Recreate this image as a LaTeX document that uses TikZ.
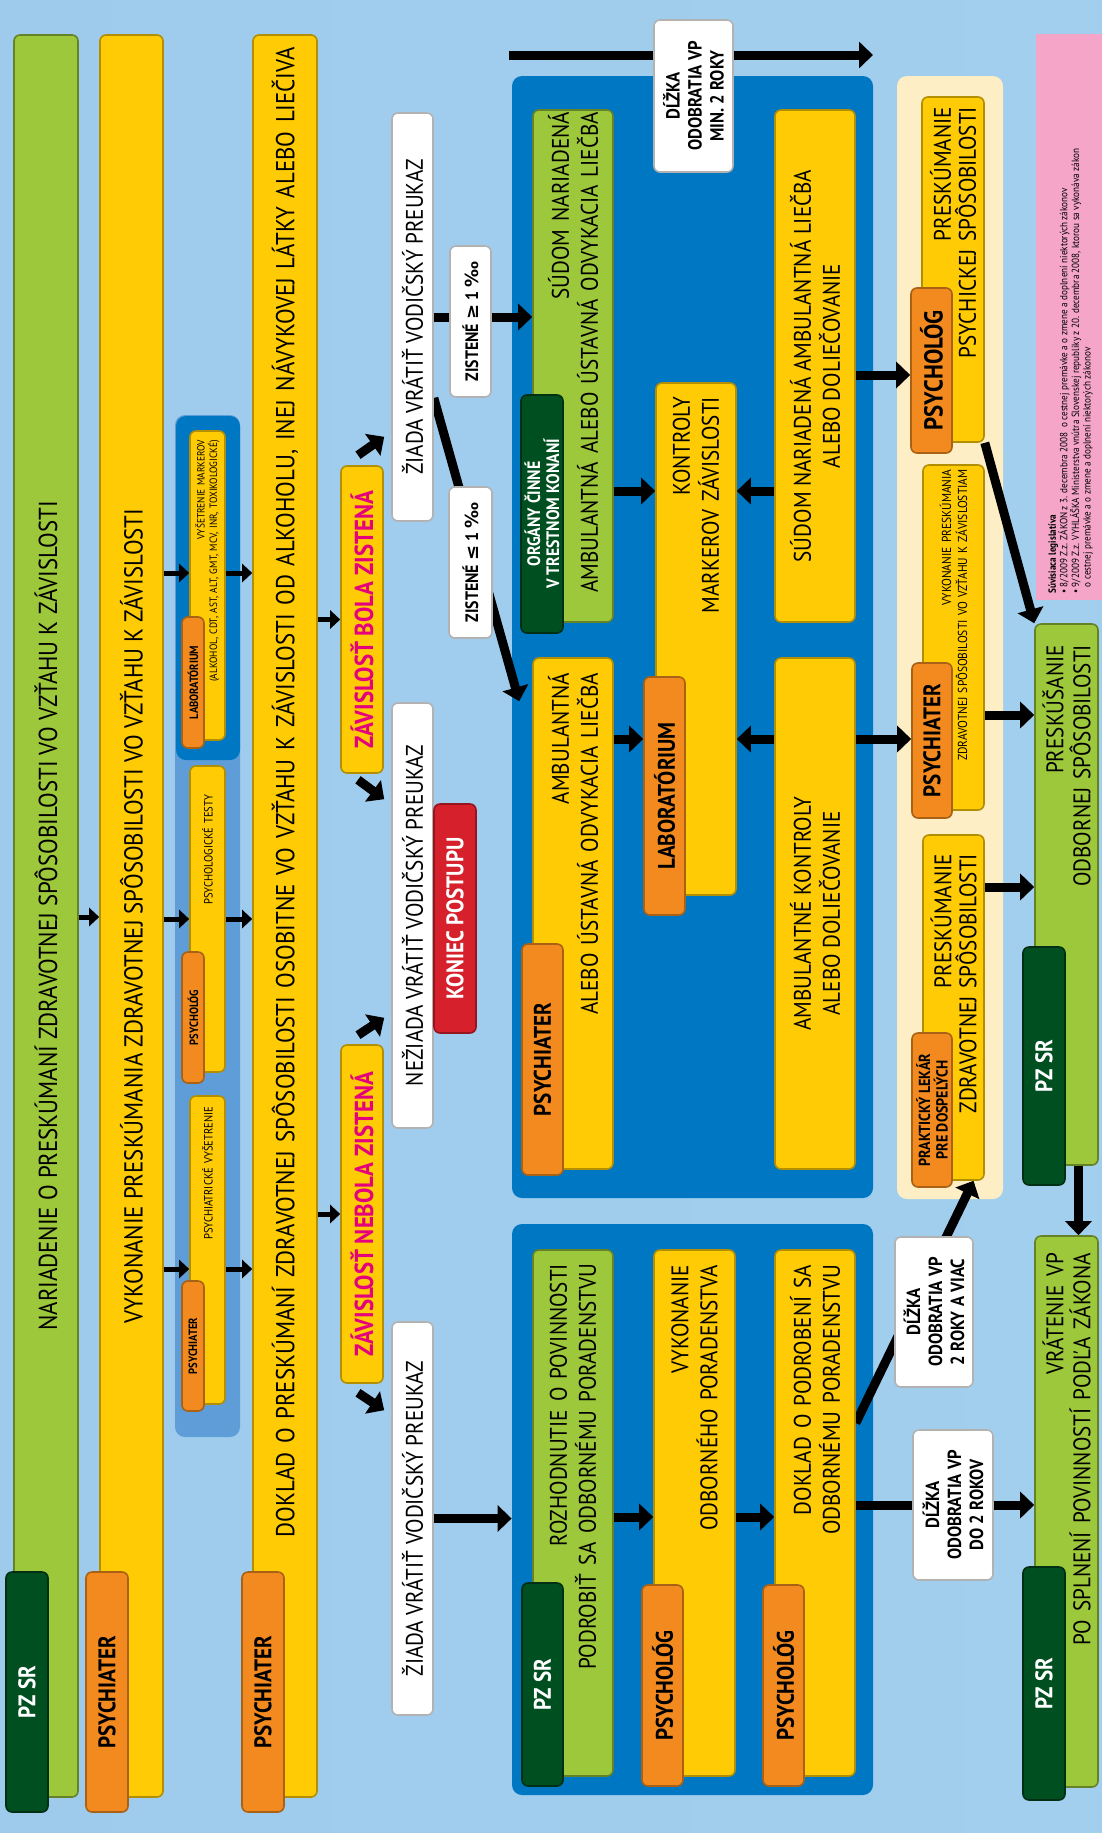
\documentclass[tikz,border=0pt]{standalone}
\usepackage{fontspec}
\setmainfont{PT Sans}[FakeStretch=0.88]
\newfontfamily\symfont{DejaVu Sans}
\usetikzlibrary{arrows.meta}

\definecolor{lime}{HTML}{9DC83B}
\definecolor{pine}{HTML}{004F20}
\definecolor{gold}{HTML}{FFCB05}
\definecolor{tangerine}{HTML}{F28A1F}
\definecolor{navy}{HTML}{0077C2}
\definecolor{steel}{HTML}{5E9DD8}
\definecolor{cream}{HTML}{FDEEC6}
\definecolor{blush}{HTML}{F4A5C8}
\definecolor{signal}{HTML}{D6202C}
\definecolor{fuchsia}{HTML}{E5007D}
\definecolor{skyA}{HTML}{9ECBEC}
\definecolor{skyB}{HTML}{DCEDF9}
\definecolor{skyC}{HTML}{A3CFEE}

\pgfdeclarelayer{back}
\pgfdeclarelayer{wires}
\pgfsetlayers{back,wires,main}

\begin{document}
\begin{tikzpicture}[x=0.5pt, y=-0.5pt,
    box/.style={rotate=90, rounded corners=3pt, line width=0.8pt, inner sep=0pt, align=center, font=\fontsize{12}{14.5}\selectfont},
    dims/.style 2 args={minimum width=#1, minimum height=#2},
    flush/.style={align=right, text width=#1},
    greenbox/.style={box, fill=lime, draw=lime!65!black},
    goldbox/.style={box, fill=gold, draw=gold!70!black},
    pinetag/.style={box, fill=pine, draw=pine!60!black, text=white, font=\bfseries\fontsize{12}{14}\selectfont},
    orangetag/.style={box, fill=tangerine, draw=tangerine!70!black, font=\bfseries\fontsize{12}{14}\selectfont},
    whitebox/.style={box, fill=white, draw=black!30},
    flag/.style={box, fill=gold, draw=gold!70!black, text=fuchsia, font=\bfseries\fontsize{13}{15}\selectfont},
    dlzka/.style={whitebox, font=\bfseries\fontsize{9.5}{11}\selectfont},
    rowtext/.style={font=\fontsize{13}{15}\selectfont},
    panel/.style={rounded corners=5pt, inner sep=0pt},
    arrow/.style={-{Triangle[length=5pt, width=9pt]}, line width=2.5pt},
    fat/.style={-{Triangle[length=7pt, width=13pt]}, line width=4.5pt}
]
\useasboundingbox (0,0) rectangle (1102,1833);

% background and panels
\begin{pgfonlayer}{back}
\shade[left color=skyA, middle color=skyB, right color=skyC] (0,0) rectangle (1102,1833);
\node[panel, fill=navy, minimum width=180.5pt, minimum height=561pt] (rpanel) at (692.5,637) {};
\node[panel, fill=navy, minimum width=180.5pt, minimum height=285.5pt] (lpanel) at (692.5,1509.5) {};
\node[panel, fill=steel, minimum width=32.5pt, minimum height=511pt] (tests) at (207.5,926) {};
\node[panel, fill=navy, minimum width=32pt, minimum height=172pt] (labp) at (208,588) {};
\node[panel, fill=cream, minimum width=53pt, minimum height=561.5pt] (exams) at (950,637.5) {};
\node[fill=blush, inner sep=0pt, minimum width=33pt, minimum height=283pt] (legis) at (1069,317) {};
\end{pgfonlayer}

% Rows 1, 2, 4
\node[greenbox, rowtext, dims={881pt}{32pt}] (nar) at (46,916) {NARIADENIE O PRESKÚMANÍ ZDRAVOTNEJ SPÔSOBILOSTI VO VZŤAHU K ZÁVISLOSTI};
\node[goldbox, rowtext, dims={881pt}{31.5pt}] (vyk) at (131.5,916) {VYKONANIE PRESKÚMANIA ZDRAVOTNEJ SPÔSOBILOSTI VO VZŤAHU K ZÁVISLOSTI};
\node[goldbox, rowtext, dims={881pt}{32pt}, flush=869pt] (dok) at (285,916) {DOKLAD O PRESKÚMANÍ ZDRAVOTNEJ SPÔSOBILOSTI OSOBITNE VO VZŤAHU K ZÁVISLOSTI OD ALKOHOLU, INEJ NÁVYKOVEJ LÁTKY ALEBO LIEČIVA};
\node[pinetag, dims={120pt}{21pt}] (pz1) at (27,1692) {PZ SR};
\node[orangetag, dims={120pt}{21pt}] (psy1) at (107,1692) {PSYCHIATER};
\node[orangetag, dims={120pt}{21pt}] (psy2) at (263,1692) {PSYCHIATER};

% Row 3
\node[goldbox, dims={154.5pt}{17.5pt}, flush=145.5pt, font=\fontsize{5.3}{6.3}\selectfont] (labY) at (207.5,585.5) {VYŠETRENIE MARKEROV\\(ALKOHOL, CDT, AST, ALT, GMT, MCV, INR, TOXIKOLOGICKÉ)};
\node[goldbox, dims={153pt}{17.5pt}, flush=124pt, font=\fontsize{6}{7}\selectfont] (testY) at (207.5,919) {PSYCHOLOGICKÉ TESTY};
\node[goldbox, dims={154pt}{17.5pt}, flush=143pt, font=\fontsize{6}{7}\selectfont] (psyY) at (207.5,1250) {PSYCHIATRICKÉ VYŠETRENIE};
\node[orangetag, dims={65.5pt}{11pt}, font=\bfseries\fontsize{6}{7}\selectfont] (labS) at (193,682.5) {LABORATÓRIUM};
\node[orangetag, dims={65.5pt}{11pt}, font=\bfseries\fontsize{6}{7}\selectfont] (testS) at (193,1017.5) {PSYCHOLÓG};
\node[orangetag, dims={65pt}{11pt}, font=\bfseries\fontsize{6}{7}\selectfont] (psyS) at (193,1346) {PSYCHIATER};

% Results
\node[flag, dims={169pt}{21pt}] (nebola) at (362,1214) {ZÁVISLOSŤ NEBOLA ZISTENÁ};
\node[flag, dims={153.5pt}{21pt}] (bola) at (362,619.5) {ZÁVISLOSŤ BOLA ZISTENÁ};
\node[whitebox, dims={196.5pt}{20.5pt}] (ziadaL) at (412.5,1518.5) {ŽIADA VRÁTIŤ VODIČSKÝ PREUKAZ};
\node[whitebox, dims={212.5pt}{20.5pt}] (neziada) at (412.5,915.5) {NEŽIADA VRÁTIŤ VODIČSKÝ PREUKAZ};
\node[whitebox, dims={204pt}{20.5pt}] (ziadaR) at (412.5,317) {ŽIADA VRÁTIŤ VODIČSKÝ PREUKAZ};
\node[box, fill=signal, draw=signal!70!black, text=white, font=\bfseries\fontsize{12}{14}\selectfont, dims={114.5pt}{21pt}] (koniec) at (455,918.5) {KONIEC POSTUPU};
\node[whitebox, dims={75.5pt}{21.5pt}, font=\bfseries\fontsize{9}{10}\selectfont] (zistM) at (470.5,562.5) {ZISTENÉ {\symfont ≤} 1 {\symfont ‰}};
\node[whitebox, dims={75.5pt}{20.5pt}, font=\bfseries\fontsize{9}{10}\selectfont] (zistP) at (470.5,321.5) {ZISTENÉ {\symfont ≥} 1 {\symfont ‰}};
\node[dlzka, dims={76pt}{39.5pt}] (dlzka1) at (693.5,96) {DĹŽKA\\ODOBRATIA VP\\MIN. 2 ROKY};
\node[dlzka, dims={75pt}{39pt}] (dlzka2) at (934,1312) {DĹŽKA\\ODOBRATIA VP\\2 ROKY A VIAC};
\node[dlzka, dims={75pt}{40pt}] (dlzka3) at (953,1505) {DĹŽKA\\ODOBRATIA VP\\DO 2 ROKOV};

% Right panel
\node[greenbox, dims={256pt}{40pt}, flush=254pt] (sudom) at (573,366) {SÚDOM NARIADENÁ\\AMBULANTNÁ ALEBO ÚSTAVNÁ ODVYKACIA LIEČBA};
\node[pinetag, dims={119pt}{21pt}, font=\bfseries\fontsize{9}{9.5}\selectfont] (organy) at (542,514) {ORGÁNY ČINNÉ\\V TRESTNOM KONANÍ};
\node[goldbox, dims={255.5pt}{40pt}, flush=240.5pt] (amb) at (573,913.5) {AMBULANTNÁ\\ALEBO ÚSTAVNÁ ODVYKACIA LIEČBA};
\node[orangetag, dims={115.5pt}{20.5pt}] (psyT) at (542.5,1059.5) {PSYCHIATER};
\node[goldbox, dims={256pt}{40pt}, flush=242pt] (kontr) at (696,639) {KONTROLY\\MARKEROV ZÁVISLOSTI};
\node[orangetag, dims={119pt}{20.5pt}] (labT) at (664.5,796) {LABORATÓRIUM};
\node[goldbox, dims={256pt}{40pt}] (sudamb) at (815,366) {SÚDOM NARIADENÁ AMBULANTNÁ LIEČBA\\ALEBO DOLIEČOVANIE};
\node[goldbox, dims={255.5pt}{40pt}] (ambkon) at (815,913.5) {AMBULANTNÉ KONTROLY\\ALEBO DOLIEČOVANIE};

% Left panel
\node[greenbox, dims={263pt}{40pt}, flush=249pt] (rozh) at (573,1513) {ROZHODNUTIE O POVINNOSTI\\PODROBIŤ SA ODBORNÉMU PORADENSTVU};
\node[pinetag, dims={101.5pt}{20.5pt}] (pzT) at (542.5,1684.5) {PZ SR};
\node[goldbox, dims={263pt}{40.5pt}, flush=248pt] (vykp) at (694.5,1513) {VYKONANIE\\ODBORNÉHO PORADENSTVA};
\node[orangetag, dims={100.5pt}{20.5pt}] (psgT1) at (662.5,1685.5) {PSYCHOLÓG};
\node[goldbox, dims={263pt}{40pt}, flush=248pt] (doklad) at (815,1513) {DOKLAD O PODROBENÍ SA\\ODBORNÉMU PORADENSTVU};
\node[orangetag, dims={100.5pt}{20.5pt}] (psgT2) at (783.5,1685.5) {PSYCHOLÓG};

% Examinations
\node[goldbox, dims={172.5pt}{31pt}, flush=162.5pt, font=\fontsize{12}{12.5}\selectfont] (pps) at (953,269.5) {PRESKÚMANIE\\PSYCHICKEJ SPÔSOBILOSTI};
\node[orangetag, dims={82.5pt}{20.5pt}, font=\bfseries\fontsize{13}{15}\selectfont] (psgT3) at (931.5,370.5) {PSYCHOLÓG};
\node[goldbox, dims={172.5pt}{30.5pt}, flush=168pt, font=\fontsize{6.5}{8}\selectfont] (vyksp) at (953.5,637.5) {VYKONANIE PRESKÚMANIA\\ZDRAVOTNEJ SPÔSOBILOSTI VO VZŤAHU K ZÁVISLOSTIAM};
\node[orangetag, dims={77.5pt}{20pt}] (psyT3) at (932,740.5) {PSYCHIATER};
\node[goldbox, dims={172.5pt}{30.5pt}, flush=153.5pt, font=\fontsize{12}{12.5}\selectfont] (pzdr) at (953.5,1007.5) {PRESKÚMANIE\\ZDRAVOTNEJ SPÔSOBILOSTI};
\node[orangetag, dims={77pt}{20pt}, font=\bfseries\fontsize{8}{8.8}\selectfont] (prakT) at (932,1110) {PRAKTICKÝ LEKÁR\\PRE DOSPELÝCH};

% Final steps
\node[greenbox, dims={270.5pt}{31.5pt}, flush=249.5pt, font=\fontsize{12}{13.5}\selectfont] (presk) at (1066.5,894.5) {PRESKÚŠANIE\\ODBORNEJ SPÔSOBILOSTI};
\node[pinetag, dims={119pt}{21pt}] (pzT2) at (1044,1066) {PZ SR};
\node[greenbox, dims={275.5pt}{31.5pt}, flush=258.5pt, font=\fontsize{12}{13.5}\selectfont] (vrat) at (1066.5,1511.5) {VRÁTENIE VP\\PO SPLNENÍ POVINNOSTÍ PODĽA ZÁKONA};
\node[pinetag, dims={116.5pt}{21pt}] (pzT3) at (1044,1683.5) {PZ SR};

% Legislation
\node[rotate=90, anchor=north west, align=left, inner sep=0pt, font=\fontsize{5.2}{5.8}\selectfont] (legtext) at (1048,594) {\textbf{Súvisiaca legislatíva}\\
• 8/2009 Z.z. ZÁKON z 3. decembra 2008 \ o cestnej premávke a o zmene a doplnení niektorých zákonov\\
• 9/2009 Z.z. VYHLÁŠKA Ministerstva vnútra Slovenskej republiky z 20. decembra 2008, ktorou sa vykonáva zákon\\
\phantom{• }o cestnej premávke a o zmene a doplnení niektorých zákonov};

\coordinate (t0) at (509,55);
\coordinate (t1) at (873,55);

% Connectors
\begin{pgfonlayer}{wires}
\draw[arrow] (nar.south |- 0,917) -- (vyk.north |- 0,917);
\foreach \y/\s in {573/labY, 919/testY, 1269/psyY} {
  \draw[arrow] (vyk.south |- 0,\y) -- (\s.north |- 0,\y);
  \draw[arrow] (\s.south |- 0,\y) -- (dok.north |- 0,\y);
}
\draw[arrow] (dok.south |- nebola) -- (nebola.north);
\draw[arrow] (dok.south |- bola) -- (bola.north);
\draw[fat] ([xshift=-2pt,yshift=4.5pt]nebola.east) -- ([xshift=-3.5pt,yshift=55.5pt]neziada.north west);
\draw[fat] ([xshift=-2pt,yshift=-4.5pt]nebola.west) -- ([xshift=-3.5pt,yshift=-44.5pt]ziadaL.north east);
\draw[fat] ([xshift=-2pt,yshift=5pt]bola.east) -- ([xshift=-3.5pt,yshift=42.5pt]ziadaR.north west);
\draw[fat] ([xshift=-2pt,yshift=-3pt]bola.west) -- ([xshift=-3.5pt,yshift=-48.5pt]neziada.north east);
\draw[fat] (ziadaL.south) -- (ziadaL.south -| lpanel.west);
\draw[fat] (ziadaR.south) -- (ziadaR.south -| sudom.north);
\draw[fat] ([yshift=-40.5pt]ziadaR.south) -- ([xshift=-6.5pt,yshift=-22pt]amb.north east);
\draw[fat] (t0) -- (t1);
\draw[fat] (amb.south |- 0,739) -- (labT.north |- 0,739);
\draw[fat] (ambkon.north |- 0,739) -- (kontr.south |- 0,739);
\draw[fat] (ambkon.south |- 0,739) -- (psyT3.north |- 0,739);
\draw[fat] (sudom.south |- 0,491) -- (kontr.north |- 0,491);
\draw[fat] (sudamb.north |- 0,491) -- (kontr.south |- 0,491);
\draw[fat] (sudamb.south |- 0,375) -- (psgT3.north |- 0,375);
\draw[fat] (rozh.south |- 0,1517) -- (vykp.north |- 0,1517);
\draw[fat] (vykp.south |- 0,1517) -- (doklad.north |- 0,1517);
\draw[fat] (doklad.south |- dlzka3) -- (vrat.north |- dlzka3);
\draw[fat] ([yshift=45pt]doklad.south) -- ([xshift=10pt]pzdr.west);
\draw[fat] (vyksp.south |- 0,715) -- (presk.north |- 0,715);
\draw[fat] (pzdr.south |- 0,887) -- (presk.north |- 0,887);
\draw[fat] (pps.south west) -- (presk.north east);
\draw[fat] ([xshift=6pt]presk.west) -- ([xshift=6pt]vrat.east);
\end{pgfonlayer}

\end{tikzpicture}
\end{document}
